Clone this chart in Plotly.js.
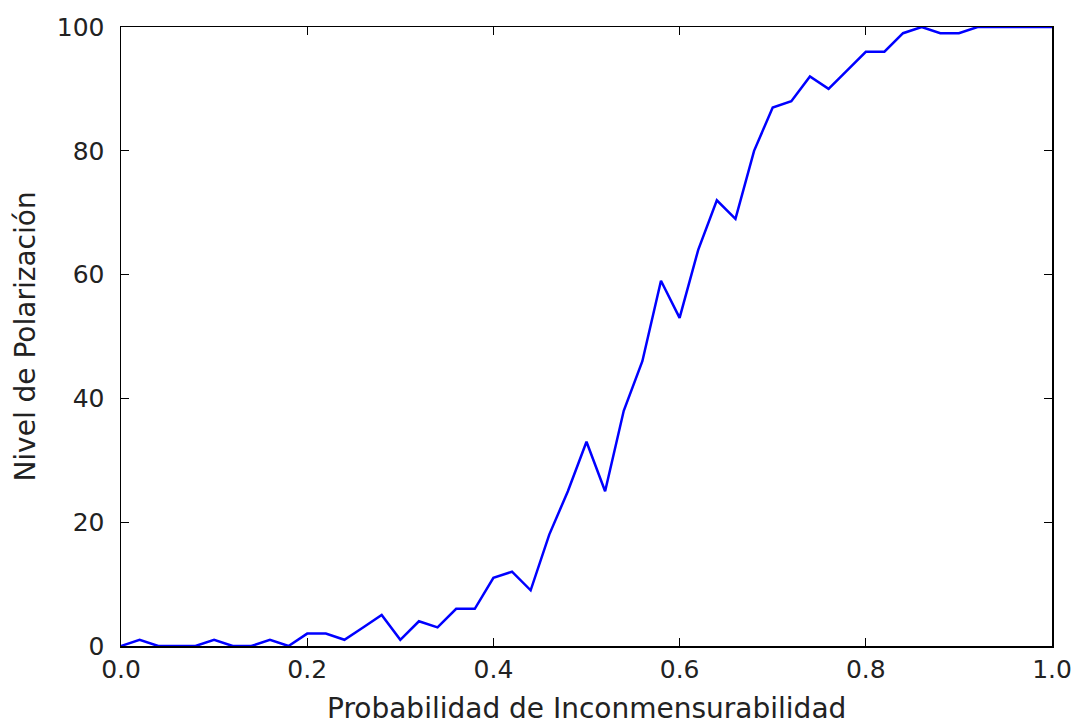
<!DOCTYPE html>
<html>
<head>
<meta charset="utf-8">
<script src="https://cdn.plot.ly/plotly-3.0.1.min.js"></script>
<style>html,body{margin:0;padding:0;background:#fff;}#chart{width:1077px;height:722px;}</style>
</head>
<body>
<div id="chart"></div>
<script>
const probabilidad = [0.00,0.02,0.04,0.06,0.08,0.10,0.12,0.14,0.16,0.18,0.20,0.22,0.24,0.26,0.28,0.30,0.32,0.34,0.36,0.38,0.40,0.42,0.44,0.46,0.48,0.50,0.52,0.54,0.56,0.58,0.60,0.62,0.64,0.66,0.68,0.70,0.72,0.74,0.76,0.78,0.80,0.82,0.84,0.86,0.88,0.90,0.92,0.94,0.96,0.98,1.00];
const polarizacion = [0,1,0,0,0,1,0,0,1,0,2,2,1,3,5,1,4,3,6,6,11,12,9,18,25,33,25,38,46,59,53,64,72,69,80,87,88,92,90,93,96,96,99,100,99,99,100,100,100,100,100];
const xTicks = [0,0.2,0.4,0.6,0.8,1.0];
const xTickText = ['0.0','0.2','0.4','0.6','0.8','1.0'];
const yTicks = [0,20,40,60,80,100];
const xTitle = 'Probabilidad de Inconmensurabilidad';
const yTitle = 'Nivel de Polarización';

const trace = {
  x: probabilidad, y: polarizacion, type: 'scatter', mode: 'lines',
  line: {color: '#0000ff', width: 2.5}
};
const axisBase = {
  showgrid: false, zeroline: false, showline: true, linecolor: '#000', linewidth: 1.5,
  mirror: 'allticks', ticks: 'inside', ticklen: 8, tickwidth: 1, tickcolor: '#000',
  automargin: false,
  tickfont: {family: 'DejaVu Sans', size: 25, color: '#222'}
};
const layout = {
  width: 1077, height: 722,
  margin: {l: 121, r: 25, t: 27, b: 76},
  paper_bgcolor: '#fff', plot_bgcolor: '#fff',
  showlegend: false,
  xaxis: Object.assign({}, axisBase, {
    range: [0, 1], tickvals: xTicks, ticktext: xTickText
  }),
  yaxis: Object.assign({}, axisBase, {
    range: [0, 100], tickvals: yTicks, ticklabelstandoff: 10,
    title: {text: yTitle, font: {family: 'DejaVu Sans', size: 28, color: '#222'}, standoff: 13}
  }),
  annotations: [{
    text: xTitle, xref: 'paper', yref: 'paper', x: 0.5, y: -0.1, yshift: -1,
    xanchor: 'center', yanchor: 'middle', showarrow: false,
    font: {family: 'DejaVu Sans', size: 28, color: '#222'}
  }]
};
Plotly.newPlot('chart', [trace], layout, {displayModeBar: false, staticPlot: true});
</script>
</body>
</html>
